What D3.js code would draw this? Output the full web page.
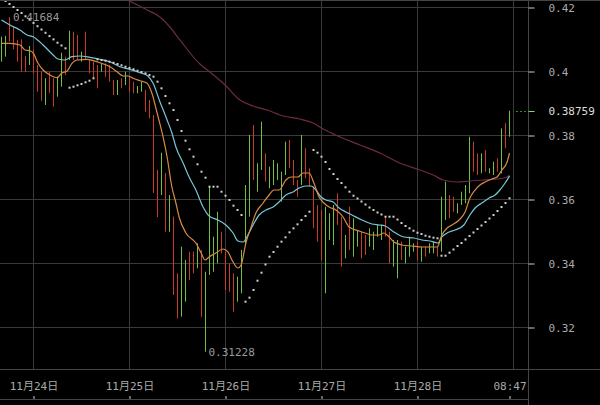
<!DOCTYPE html>
<html><head><meta charset="utf-8">
<script src="https://cdn.jsdelivr.net/npm/d3@7"></script>
<style>
html,body{margin:0;padding:0;background:#000;}
svg{display:block;}
text{font-family:"DejaVu Sans Mono","Noto Sans CJK SC",monospace;}
</style></head><body>
<svg id="c" width="600" height="405"></svg>
<script>
// ---- data (hourly bars, index 0..127) ----
const highs = [0.41072,0.41094,0.41684,0.41384,0.40969,0.40991,0.40469,0.40781,0.40678,0.40188,
0.39978,0.39772,0.39978,0.39772,0.39822,0.40572,0.40447,0.41259,0.41228,0.41125,
0.40603,0.41228,0.40344,0.40291,0.40188,0.40241,0.40241,0.40188,0.39719,0.39719,
0.39772,0.39978,0.39822,0.39666,0.39531,0.39666,0.39406,0.39094,0.38625,0.36906,
0.37447,0.36813,0.36125,0.35447,0.33678,0.34509,0.34094,0.34353,0.34353,0.34616,
0.34406,0.33728,0.36384,0.34822,0.35603,0.34978,0.34353,0.33991,0.33678,0.33572,
0.34406,0.36437,0.38000,0.38312,0.37116,0.38416,0.37428,0.37009,0.37219,0.37116,
0.36853,0.37791,0.37844,0.37219,0.36594,0.38000,0.37584,0.36959,0.36384,0.35813,
0.35656,0.35759,0.35553,0.35813,0.36178,0.35447,0.34875,0.35759,0.35397,0.35031,
0.34978,0.34875,0.35084,0.34978,0.35188,0.35188,0.35447,0.34978,0.34719,0.34719,
0.34666,0.34509,0.34822,0.34616,0.34666,0.34509,0.34509,0.34616,0.34666,0.34509,
0.36072,0.36541,0.36125,0.36072,0.35866,0.36228,0.36437,0.37947,0.37791,0.37428,
0.37428,0.37531,0.36959,0.37166,0.37272,0.38209,0.38366,0.38759];
const lows = [0.40291,0.40447,0.40916,0.40678,0.40291,0.39978,0.39978,0.40188,0.39928,0.39353,
0.39072,0.38938,0.39322,0.38884,0.39197,0.39509,0.39875,0.40344,0.40344,0.40344,
0.40291,0.40344,0.39928,0.39772,0.39459,0.39978,0.39822,0.39666,0.39250,0.39250,
0.39459,0.39562,0.39353,0.39303,0.39303,0.39353,0.38728,0.38522,0.36187,0.35437,
0.36125,0.34978,0.34978,0.33000,0.32272,0.32322,0.32791,0.33469,0.33678,0.33834,
0.32322,0.31228,0.33625,0.33728,0.33991,0.34303,0.33156,0.33103,0.32478,0.32791,
0.33053,0.34616,0.35447,0.36594,0.36228,0.36906,0.36541,0.36334,0.36437,0.36594,
0.35916,0.36750,0.36959,0.36437,0.36072,0.36437,0.36647,0.36384,0.35084,0.34666,
0.34094,0.33053,0.34719,0.34563,0.35188,0.33884,0.34147,0.34406,0.34197,0.34509,
0.34147,0.34250,0.34509,0.34406,0.34822,0.34719,0.34822,0.33991,0.33884,0.33522,
0.34094,0.33991,0.34197,0.34353,0.34094,0.34041,0.34197,0.34303,0.34303,0.34197,
0.34353,0.35344,0.35397,0.35603,0.35553,0.35813,0.35866,0.36178,0.36853,0.36750,
0.36803,0.36853,0.36803,0.36750,0.36853,0.36803,0.37584,0.37947];
// 1 = up (green), 0 = down (red)
const dirs = [1,1,0,0,0,0,0,1,0,0, 0,1,0,0,1,1,0,1,0,0, 1,0,0,0,0,1,0,0,0,1,
0,1,0,0,1,1,0,0,0,0, 1,0,1,0,0,1,1,0,0,1, 0,1,1,1,1,0,0,0,0,1,
1,1,1,0,1,1,0,1,1,1, 1,1,0,0,0,1,0,0,0,0, 0,1,1,1,0,0,1,0,1,1,
0,0,1,1,1,1,0,0,1,1, 0,1,1,1,0,1,0,1,1,0, 1,1,0,0,1,1,1,1,0,0,
1,0,1,1,0,1,0,1];
// parabolic SAR, one value per bar
const sar = [0.42281,0.42188,0.42094,0.42000,0.41906,0.41813,0.41709,0.41606,0.41503,0.41400,
0.41297,0.41194,0.41091,0.40988,0.40884,0.40797,0.40709,0.39478,0.39509,0.39553,
0.39594,0.39647,0.39697,0.39772,0.40366,0.40344,0.40322,0.40291,0.40259,0.40219,
0.40178,0.40134,0.40094,0.40053,0.40009,0.39969,0.39928,0.39875,0.39822,0.39666,
0.39459,0.39219,0.38991,0.38781,0.38469,0.38125,0.37822,0.37553,0.37322,0.37084,
0.36853,0.36666,0.36384,0.36384,0.36384,0.36228,0.36103,0.35969,0.35791,0.35656,
0.35500,0.32791,0.32916,0.33156,0.33447,0.33697,0.33953,0.34197,0.34344,0.34509,
0.34666,0.34803,0.34959,0.35084,0.35209,0.35344,0.35469,0.35603,0.37531,0.37447,
0.37322,0.37156,0.36937,0.36781,0.36625,0.36500,0.36366,0.36228,0.36103,0.36016,
0.35922,0.35828,0.35734,0.35656,0.35578,0.35516,0.35447,0.35447,0.35447,0.35359,
0.35250,0.35156,0.35084,0.35009,0.34947,0.34906,0.34853,0.34822,0.34791,0.34772,
0.34228,0.34228,0.34322,0.34422,0.34531,0.34625,0.34734,0.34844,0.34953,0.35063,
0.35172,0.35281,0.35391,0.35500,0.35625,0.35750,0.35875,0.36022];
// moving averages sampled as [bar index, value]
const maFast = [[0,0.40866],[2.1,0.40866],[4.6,0.40813],[5.9,0.40656],[7.1,0.40634],[7.9,0.40563],[9.1,0.4025],[10.4,0.40031],[12.1,0.39875],[13.9,0.39791],[15.1,0.39938],[16.4,0.4],[17.6,0.40241],[18.9,0.40344],[21.4,0.40366],[22.9,0.40322],[24.6,0.40259],[27.1,0.40134],[28.9,0.39978],[30.4,0.39844],[31.6,0.39844],[32.9,0.39772],[34.6,0.39697],[36.4,0.39616],[37.6,0.39303],[38.9,0.38688],[40.4,0.37938],[41.4,0.37313],[42.6,0.36375],[43.6,0.35875],[44.4,0.35438],[46.1,0.34938],[48.6,0.34625],[49.9,0.34313],[50.9,0.34094],[51.9,0.34188],[53.6,0.34313],[55.4,0.34438],[56.6,0.34344],[57.9,0.34031],[59.1,0.33844],[59.9,0.33938],[61.1,0.34625],[62.4,0.35125],[63.6,0.35563],[65.4,0.35875],[66.9,0.36125],[68.1,0.36281],[69.4,0.36281],[71.1,0.36594],[72.4,0.36688],[74.1,0.36688],[75.4,0.36813],[76.9,0.36813],[78.1,0.365],[79.4,0.36063],[80.6,0.35875],[81.9,0.3575],[83.6,0.35656],[85.4,0.35438],[86.9,0.35125],[89.4,0.35],[90.9,0.34938],[92.6,0.34875],[94.4,0.34875],[95.6,0.34938],[96.4,0.34875],[98.1,0.34656],[100.1,0.34563],[102.6,0.34531],[105.1,0.345],[107.6,0.345],[108.9,0.345],[110.1,0.34875],[111.4,0.35094],[112.6,0.35188],[114.4,0.35344],[115.9,0.35594],[117.1,0.36031],[118.4,0.36281],[119.6,0.36438],[120.9,0.36531],[122.6,0.36625],[123.9,0.36688],[125.1,0.36906],[126.4,0.37156],[127,0.37438]];
const maMid = [[0,0.41594],[2.1,0.41438],[4.6,0.41281],[6.4,0.41125],[7.9,0.41072],[10.4,0.40813],[12.9,0.405],[14.1,0.40375],[15.9,0.40344],[17.6,0.40447],[19.6,0.40469],[22.1,0.40428],[24.6,0.40366],[27.1,0.40291],[29.6,0.40134],[32.1,0.40053],[34.6,0.39947],[36.6,0.39844],[37.9,0.39616],[39.6,0.39041],[41.4,0.38469],[42.6,0.38063],[43.6,0.37625],[45.4,0.37125],[46.9,0.36688],[48.6,0.36281],[50.4,0.3575],[51.9,0.35469],[54.1,0.35344],[56.1,0.35188],[57.9,0.34938],[59.1,0.34688],[60.4,0.34656],[61.6,0.34875],[62.9,0.35188],[64.4,0.355],[66.1,0.35656],[67.9,0.3575],[69.4,0.35906],[71.1,0.36125],[72.9,0.36219],[74.4,0.36344],[76.1,0.36406],[77.4,0.36406],[78.6,0.36281],[79.9,0.36063],[81.1,0.35969],[82.9,0.35906],[84.4,0.35719],[86.1,0.35594],[87.6,0.355],[90.1,0.35344],[92.6,0.35219],[94.4,0.35188],[95.9,0.35156],[98.1,0.34969],[100.6,0.34813],[103.1,0.34781],[105.1,0.34719],[107.1,0.34688],[109.1,0.34625],[110.1,0.34813],[111.4,0.34938],[113.4,0.35031],[115.6,0.35188],[117.1,0.355],[118.4,0.35719],[120.1,0.35875],[121.9,0.36031],[123.4,0.36125],[124.6,0.36281],[125.9,0.365],[127,0.36719]];
const maSlow = [[0,0.43156],[14.6,0.42781],[24.6,0.425],[31.4,0.42219],[36.4,0.41906],[39.6,0.41688],[42.1,0.41375],[44.6,0.40969],[49.6,0.40219],[52.1,0.39969],[55.9,0.39563],[59.6,0.39094],[62.9,0.38906],[66.4,0.38781],[70.4,0.38594],[74.6,0.385],[77.9,0.38375],[80.4,0.38188],[84.6,0.37938],[89.6,0.37688],[94.6,0.37438],[99.6,0.37125],[104.6,0.36906],[107.9,0.3675],[110.4,0.36594],[113.9,0.36531],[117.1,0.36563],[120.4,0.36594],[123.9,0.36625],[126.4,0.36688],[127,0.3675]];
const yTicks = [0.32,0.34,0.36,0.38,0.4,0.42];
const dateTicks = [8,32,56,80,104];
const dateLabels = ["11月24日","11月25日","11月26日","11月27日","11月28日"];
const gridCols = [8,32,56,80,104,128];
const lastTickIdx = 127, lastTickLabel = "08:47";
const lastPrice = 0.38759;

// ---- drawing ----
const svg = d3.select("#c");
const W = 600, H = 405, plotR = 528.5, plotB = 369, axisY = 399;
const x = d3.scaleLinear().domain([0,127]).range([1.5,509.5]);
const y = d3.scaleLinear().domain([0.32,0.42]).range([327,7]);
const gridCol = "#3a3a3a";

svg.append("rect").attr("width",W).attr("height",H).attr("fill","#000");
svg.append("defs").append("clipPath").attr("id","clip")
  .append("rect").attr("x",0).attr("y",1).attr("width",plotR).attr("height",plotB-1);

// grid
svg.append("g").selectAll("line").data(yTicks).join("line")
  .attr("x1",0).attr("x2",plotR)
  .attr("y1",d=>Math.round(y(d))+0.5).attr("y2",d=>Math.round(y(d))+0.5)
  .attr("stroke",gridCol);
svg.append("g").selectAll("line").data(gridCols).join("line")
  .attr("x1",d=>Math.floor(x(d))+0.5).attr("x2",d=>Math.floor(x(d))+0.5)
  .attr("y1",0).attr("y2",plotB).attr("stroke",gridCol);
// frame lines
svg.append("line").attr("x1",0).attr("x2",W).attr("y1",0.5).attr("y2",0.5).attr("stroke","#444");
svg.append("line").attr("x1",0).attr("x2",W).attr("y1",plotB+0.5).attr("y2",plotB+0.5).attr("stroke","#444");
svg.append("line").attr("x1",0).attr("x2",plotR).attr("y1",axisY+0.5).attr("y2",axisY+0.5).attr("stroke","#444");
svg.append("line").attr("x1",plotR).attr("x2",plotR).attr("y1",0).attr("y2",H).attr("stroke","#444");

const plot = svg.append("g").attr("clip-path","url(#clip)");

// bars
plot.append("g").selectAll("line").data(highs).join("line")
  .attr("x1",(d,i)=>x(i)).attr("x2",(d,i)=>x(i))
  .attr("y1",d=>y(d)).attr("y2",(d,i)=>y(lows[i]))
  .attr("stroke",(d,i)=>dirs[i]?"#72bf44":"#c83c28")
  .attr("stroke-width",1);

// MAs
const line = d3.line().x(d=>x(d[0])).y(d=>y(d[1])).curve(d3.curveMonotoneX);
plot.append("path").datum(maSlow).attr("d",line).attr("fill","none").attr("stroke","#6e2a45").attr("stroke-width",1.2);
plot.append("path").datum(maMid).attr("d",line).attr("fill","none").attr("stroke","#79c6d6").attr("stroke-width",1.2);
plot.append("path").datum(maFast).attr("d",line).attr("fill","none").attr("stroke","#d98a42").attr("stroke-width",1.2);

// SAR
plot.append("g").selectAll("rect").data(sar).join("rect")
  .attr("x",(d,i)=>x(i)-1).attr("y",d=>y(d)-1).attr("width",2).attr("height",2)
  .attr("fill","#d0d0d0");

// max / min labels
const maxI = d3.maxIndex(highs), minI = d3.minIndex(lows);
svg.append("text").attr("x",x(maxI)+3.5).attr("y",y(highs[maxI])).attr("dy","0.35em")
  .attr("fill","#999").attr("font-size",11).text(d3.format(".5f")(highs[maxI]));
svg.append("text").attr("x",x(minI)+3).attr("y",y(lows[minI])).attr("dy","0.35em")
  .attr("fill","#999").attr("font-size",11).text(d3.format(".5f")(lows[minI]));

// right axis
const ya = d3.axisRight(y).tickValues(yTicks).tickSize(6).tickPadding(14)
  .tickFormat(d=>d3.format("")(+d.toFixed(2)));
const yg = svg.append("g").attr("transform",`translate(${plotR},0.5)`).call(ya);
yg.select(".domain").remove();
yg.selectAll("line").attr("stroke","#ccc");
yg.selectAll("text").attr("fill","#aaa").attr("font-size",11).attr("font-family",null);

// last price
const ly = Math.round(y(lastPrice))+0.5;
svg.append("line").attr("x1",516).attr("x2",plotR).attr("y1",ly).attr("y2",ly)
  .attr("stroke","#3f8a2a").attr("stroke-dasharray","2,2");
svg.append("line").attr("x1",plotR).attr("x2",plotR+6).attr("y1",ly).attr("y2",ly).attr("stroke","#8fd060");
svg.append("text").attr("x",plotR+20).attr("y",ly).attr("dy","0.35em")
  .attr("fill","#ddd").attr("font-size",11).text(d3.format(".5f")(lastPrice));

// bottom axis
const xa = d3.axisTop(x).tickValues([...dateTicks,lastTickIdx]).tickSize(3).tickPadding(6)
  .tickFormat(d=> d===lastTickIdx ? lastTickLabel : dateLabels[dateTicks.indexOf(d)]);
const xg = svg.append("g").attr("transform",`translate(0,${axisY})`).call(xa);
xg.select(".domain").remove();
xg.selectAll("line").attr("stroke","#ccc");
xg.selectAll("text").attr("fill","#aaa").attr("font-size",11).attr("font-family",null);
</script>
</body></html>
